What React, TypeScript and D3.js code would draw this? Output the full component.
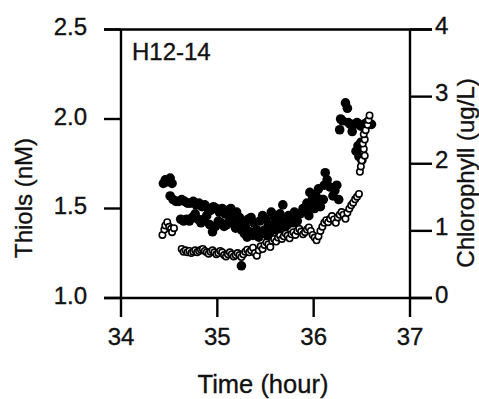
import React from "react";
import * as d3 from "d3";

// ---- data (time in hours) ----
const thiolsTime: number[] = [
  34.44, 34.46, 34.48, 34.51, 34.53,
  34.51, 34.54, 34.57, 34.60, 34.63, 34.66, 34.69, 34.72, 34.75, 34.78, 34.81, 34.84, 34.87, 34.90, 34.93,
  34.96, 34.99, 35.02, 35.05, 35.08, 35.11, 35.14, 35.17, 35.20, 35.23,
  34.62, 34.65, 34.68, 34.71, 34.74, 34.77, 34.80, 34.83, 34.86, 34.89, 34.92, 34.95, 34.98,
  35.01, 35.04, 35.07, 35.10, 35.13, 35.16, 35.19, 35.22, 35.25, 35.28, 35.31, 35.34, 35.37,
  35.26, 35.29, 35.32, 35.35, 35.38, 35.41, 35.44, 35.47, 35.50, 35.53, 35.56, 35.59, 35.62, 35.65, 35.68,
  35.40, 35.43, 35.46, 35.49, 35.52, 35.55, 35.58, 35.61, 35.64, 35.67, 35.70, 35.73, 35.76, 35.79, 35.82,
  35.71, 35.74, 35.77, 35.80, 35.83, 35.86, 35.89, 35.92, 35.95, 35.98, 36.01, 36.04, 36.07, 36.10,
  35.93, 35.96, 35.99, 36.02, 36.05, 36.08, 36.11, 36.12, 36.14, 36.17, 36.20, 36.22, 36.24, 36.26,
  35.25,
  36.27, 36.28, 36.30, 36.33, 36.35, 36.36, 36.38, 36.40, 36.42, 36.45, 36.47, 36.49, 36.52, 36.55, 36.58, 36.60,
  36.44, 36.46, 36.47, 36.49, 36.50,
];
const thiolsValue: number[] = [
  1.64, 1.66, 1.65, 1.67, 1.64,
  1.57, 1.55, 1.54, 1.54, 1.55, 1.54, 1.53, 1.53, 1.54, 1.52, 1.53, 1.51, 1.52, 1.50, 1.49,
  1.51, 1.50, 1.48, 1.50, 1.47, 1.49, 1.50, 1.46, 1.48, 1.45,
  1.44, 1.43, 1.44, 1.43, 1.45, 1.47, 1.44, 1.42, 1.44, 1.46, 1.41, 1.37, 1.40,
  1.43, 1.42, 1.40, 1.41, 1.44, 1.42, 1.39, 1.41, 1.38, 1.36, 1.34, 1.37, 1.35,
  1.42, 1.40, 1.44, 1.45, 1.42, 1.38, 1.43, 1.46, 1.44, 1.41, 1.48, 1.45, 1.43, 1.47, 1.52,
  1.37, 1.34, 1.36, 1.38, 1.35, 1.37, 1.40, 1.38, 1.42, 1.39, 1.43, 1.41, 1.45, 1.42, 1.47,
  1.40, 1.46, 1.44, 1.48, 1.43, 1.47, 1.50, 1.49, 1.46, 1.52, 1.50, 1.53, 1.51, 1.55,
  1.53, 1.59, 1.56, 1.58, 1.61, 1.55, 1.63, 1.70, 1.66, 1.62, 1.57, 1.60, 1.63, 1.55,
  1.18,
  1.94, 2.00, 1.99, 2.09, 2.06, 1.98, 1.97, 1.93, 1.97, 1.98, 1.97, 1.96, 1.97, 1.98, 1.97, 1.97,
  1.82, 1.85, 1.79, 1.87, 1.77,
];

const chlTime: number[] = [
  34.43, 34.45, 34.46, 34.48, 34.50, 34.52, 34.53, 34.55,
  34.63, 34.65, 34.67, 34.69, 34.71, 34.73, 34.75, 34.77, 34.79, 34.81, 34.83, 34.85, 34.87, 34.89,
  34.91, 34.93, 34.95, 34.97, 34.99, 35.01, 35.03, 35.05, 35.07, 35.09, 35.11, 35.13, 35.15, 35.17,
  35.19, 35.21, 35.23, 35.25, 35.27, 35.29, 35.31, 35.33, 35.35, 35.37, 35.39, 35.41, 35.43, 35.45,
  35.47, 35.49, 35.51, 35.53, 35.55, 35.57, 35.59, 35.61, 35.63, 35.65, 35.67, 35.69, 35.71, 35.73,
  35.75, 35.77, 35.79, 35.81, 35.83, 35.85, 35.87, 35.89, 35.91, 35.93, 35.95, 35.97, 35.99, 36.01,
  36.03, 36.05, 36.07, 36.09, 36.11, 36.13, 36.15, 36.17, 36.19, 36.21, 36.23, 36.25, 36.27, 36.29,
  36.31, 36.33, 36.35, 36.37, 36.39, 36.41, 36.43, 36.45, 36.47,
  36.48, 36.49, 36.50, 36.53, 36.52, 36.51, 36.53, 36.52, 36.54, 36.56, 36.57, 36.58,
];
const chlValue: number[] = [
  0.94, 1.02, 1.08, 1.13, 1.06, 1.03, 0.98, 1.04,
  0.73, 0.69, 0.71, 0.68, 0.70, 0.67, 0.69, 0.71, 0.68, 0.70, 0.72, 0.73, 0.70, 0.68,
  0.66, 0.69, 0.71, 0.68, 0.65, 0.67, 0.70, 0.68, 0.64, 0.62, 0.65, 0.68, 0.65, 0.62,
  0.64, 0.67, 0.64, 0.61, 0.65, 0.69, 0.72, 0.68, 0.71, 0.75, 0.67, 0.63, 0.71, 0.77,
  0.73, 0.79, 0.83, 0.80, 0.76, 0.85, 0.88, 0.84, 0.90, 0.93, 0.88, 0.92, 0.96, 0.93,
  0.89, 0.95, 0.98, 0.94, 1.00, 1.03, 0.99, 0.95, 0.98, 1.02, 1.05, 1.00, 0.94, 0.90,
  0.86, 0.92, 1.00, 1.06, 1.12, 1.16, 1.13, 1.18, 1.22, 1.17, 1.12, 1.20, 1.24, 1.28,
  1.24, 1.18, 1.27, 1.33, 1.38, 1.42, 1.47, 1.51, 1.55,
  1.88, 1.96, 2.05, 2.12, 2.22, 2.30, 2.36, 2.44, 2.50, 2.58, 2.65, 2.72,
];

const xTicks: number[] = [34, 35, 36, 37];
const yLeftTicks: number[] = [1.0, 1.5, 2.0, 2.5];
const yRightTicks: number[] = [0, 1, 2, 3, 4];
const panelLabel = "H12-14";
const xTitle = "Time (hour)";
const yLeftTitle = "Thiols (nM)";
const yRightTitle = "Chlorophyll (ug/L)";

const W = 479;
const H = 399;
const L = 121;
const R = 410;
const T = 29.5;
const B = 298;
const FONT = '"Liberation Sans", Arial, Helvetica, sans-serif';
const FS = 24;

export default function App() {
  const x = d3.scaleLinear().domain([34, 37]).range([L, R]);
  const yL = d3.scaleLinear().domain([1.0, 2.5]).range([B, T]);
  const yR = d3.scaleLinear().domain([0, 4]).range([B, T]);
  const thiols = thiolsTime.map((t, i) => ({ t, v: thiolsValue[i] }));
  const chl = chlTime.map((t, i) => ({ t, v: chlValue[i] }));
  const sw = 2.4;
  const textProps = { fontSize: FS, fill: "#111", stroke: "#111", strokeWidth: 0.35 };
  return (
    <svg
      width={W}
      height={H}
      style={{ position: "absolute", left: 0, top: 0, background: "#fff" }}
      fontFamily={FONT}
    >
      <rect x={0} y={0} width={W} height={H} fill="#fff" />
      {/* frame */}
      <line x1={L} x2={L} y1={T} y2={B} stroke="#000" strokeWidth={sw} />
      <line x1={R} x2={R} y1={T} y2={B} stroke="#000" strokeWidth={sw} />
      <line x1={L - 17} x2={R + 22} y1={B} y2={B} stroke="#000" strokeWidth={sw} />
      <line x1={L - 17} x2={R + 22} y1={T} y2={T} stroke="#000" strokeWidth={sw} />
      {/* left ticks */}
      {yLeftTicks.map((v) => (
        <g key={"l" + v}>
          <line x1={L - 17} x2={L} y1={yL(v)} y2={yL(v)} stroke="#000" strokeWidth={sw} />
          <text x={87} y={yL(v) + 5.5} textAnchor="end" {...textProps}>
            {d3.format(".1f")(v)}
          </text>
        </g>
      ))}
      {/* right ticks */}
      {yRightTicks.map((v) => (
        <g key={"r" + v}>
          <line x1={R} x2={R + 22} y1={yR(v)} y2={yR(v)} stroke="#000" strokeWidth={sw} />
          <text x={435} y={yR(v) + 4.5} textAnchor="start" {...textProps}>
            {v}
          </text>
        </g>
      ))}
      {/* bottom ticks */}
      {xTicks.map((v) => (
        <g key={"b" + v}>
          <line x1={x(v)} x2={x(v)} y1={B} y2={B + 19} stroke="#000" strokeWidth={sw} />
          <text x={x(v)} y={345} textAnchor="middle" {...textProps}>
            {v}
          </text>
        </g>
      ))}
      {/* titles */}
      <text x={263} y={393} textAnchor="middle" {...textProps} fontSize={25.5}>
        {xTitle}
      </text>
      <text transform={`translate(32,198) rotate(-90)`} textAnchor="middle" {...textProps}>
        {yLeftTitle}
      </text>
      <text transform={`translate(474,173) rotate(-90)`} textAnchor="middle" {...textProps}>
        {yRightTitle}
      </text>
      <text x={132} y={60} {...textProps}>
        {panelLabel}
      </text>
      {/* thiols filled */}
      {thiols.map((d, i) => (
        <circle key={"t" + i} cx={x(d.t)} cy={yL(d.v)} r={4.8} fill="#000" />
      ))}
      {/* chlorophyll open */}
      {chl.map((d, i) => (
        <circle
          key={"c" + i}
          cx={x(d.t)}
          cy={yR(d.v)}
          r={3.2}
          fill="#fff"
          stroke="#000"
          strokeWidth={1.6}
        />
      ))}
    </svg>
  );
}
